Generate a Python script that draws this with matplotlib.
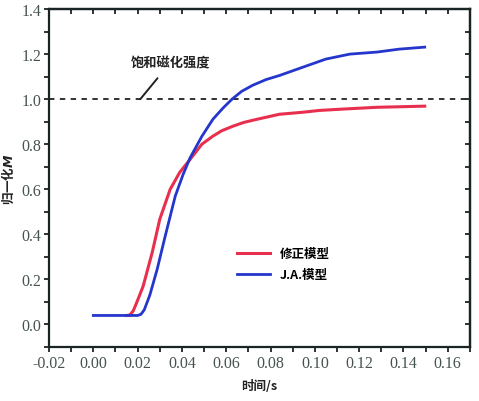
import numpy as np
import matplotlib.pyplot as plt
from matplotlib.ticker import MultipleLocator

plt.rcParams['font.family'] = ['Noto Sans CJK SC', 'DejaVu Sans']

# 修正模型 (red)
t_mod = [0.015, 0.0165, 0.018, 0.0195, 0.0225, 0.0266, 0.030, 0.0347, 0.039, 0.0437,
         0.049, 0.054, 0.058, 0.063, 0.068, 0.074, 0.084, 0.0946, 0.102, 0.1126,
         0.128, 0.1496]
m_mod = [0.04, 0.042, 0.06, 0.095, 0.17, 0.32, 0.467, 0.60, 0.675, 0.733,
         0.80, 0.836, 0.86, 0.88, 0.897, 0.911, 0.933, 0.942, 0.95, 0.956,
         0.964, 0.969]

# J.A.模型 (blue)
t_ja = [0.0, 0.02, 0.0215, 0.023, 0.0255, 0.0288, 0.0324, 0.037, 0.0405, 0.0437,
        0.049, 0.054, 0.0585, 0.0626, 0.067, 0.072, 0.078, 0.084, 0.0946, 0.105,
        0.1158, 0.128, 0.138, 0.1496]
m_ja = [0.04, 0.04, 0.045, 0.065, 0.13, 0.244, 0.39, 0.57, 0.665, 0.74,
        0.835, 0.911, 0.96, 1.0, 1.035, 1.062, 1.087, 1.105, 1.142, 1.178,
        1.20, 1.209, 1.222, 1.231]

sat_level = 1.0

fig = plt.figure(figsize=(4.79, 4.02), dpi=100)
ax = fig.add_axes([0.1023, 0.1343, 0.8787, 0.8407])

ax.axhline(sat_level, color='#222222', lw=1.3, ls=(0, (3, 3)))
ax.plot(t_mod, m_mod, color='#e8304e', lw=2.2, label='修正模型')
ax.plot(t_ja, m_ja, color='#2436cc', lw=2.0, label='J.A.模型')

ax.annotate('饱和磁化强度', xy=(0.0212, sat_level), xytext=(0.035, 1.165),
            ha='center', va='center', fontsize=9.5, fontweight='heavy', color='#222222',
            arrowprops=dict(arrowstyle='-', color='#222222', lw=1.4,
                            shrinkA=6, shrinkB=0))

ax.set_xlim(-0.02, 0.17)
ax.set_ylim(-0.1, 1.4)
xt = np.arange(-0.02, 0.161, 0.02)
yt = np.arange(0, 1.41, 0.2)
ax.set_xticks(xt)
ax.set_xticklabels([f'{v:.2f}' for v in xt])
ax.set_yticks(yt)
ax.set_yticklabels([f'{v:.1f}' for v in yt])
ax.xaxis.set_minor_locator(MultipleLocator(0.01))
ax.yaxis.set_minor_locator(MultipleLocator(0.1))

for lab in ax.get_xticklabels() + ax.get_yticklabels():
    lab.set_fontfamily('Liberation Serif')
    lab.set_fontsize(11.5)
    lab.set_color('#46544f')

ax.tick_params(which='both', direction='out', length=3.5, width=1.3, color='#1a2424', pad=2)

# top and right ticks point inward
top = ax.secondary_xaxis('top')
top.set_xticks(xt)
top.xaxis.set_minor_locator(MultipleLocator(0.01))
top.tick_params(which='both', direction='in', length=3.5, width=1.3, color='#1a2424',
                labeltop=False)
right = ax.secondary_yaxis('right')
right.set_yticks(yt)
right.yaxis.set_minor_locator(MultipleLocator(0.1))
right.tick_params(which='both', direction='in', length=3.5, width=1.3, color='#1a2424',
                  labelright=False)
for a in (ax, top, right):
    for s in a.spines.values():
        s.set_linewidth(1.6)
        s.set_color('#1a2424')

ax.set_xlabel('时间/s', fontsize=9, fontweight='bold', color='#222222', labelpad=6)
ax.set_ylabel('归一化$\\boldsymbol{M}$', fontsize=9, fontweight='bold', color='#222222', labelpad=4)

leg = ax.legend(loc='center left', bbox_to_anchor=(0.42, 0.245), frameon=False,
                prop={'size': 9, 'weight': 'bold'}, handlelength=2.6, labelspacing=0.6,
                handletextpad=0.8)

fig.savefig('out.png', dpi=100)
